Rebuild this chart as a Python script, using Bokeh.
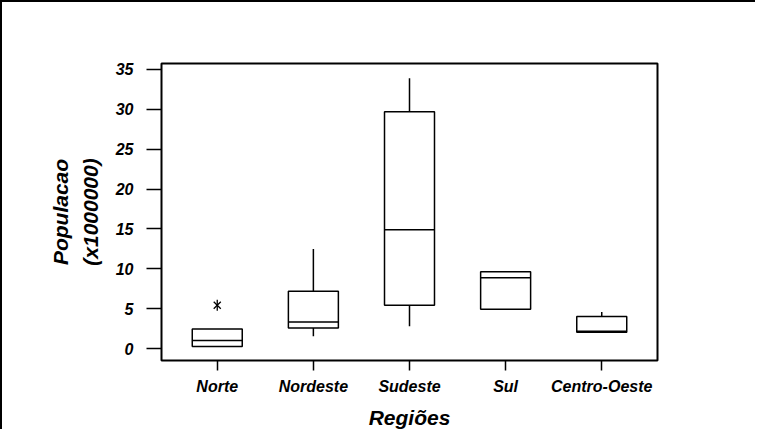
import math
from bokeh.plotting import figure
from bokeh.models import FactorRange, Range1d, FixedTicker
from bokeh.embed import file_html
from bokeh.resources import INLINE

regions = ["Norte", "Nordeste", "Sudeste", "Sul", "Centro-Oeste"]
q1 = [0.29, 2.6, 5.44, 4.95, 2.05]
median = [1.03, 3.34, 14.9, 8.9, 2.17]
q3 = [2.47, 7.2, 29.7, 9.65, 4.04]
whisker_low = [0.29, 1.57, 2.8, 4.95, 2.05]
whisker_high = [2.47, 12.5, 33.9, 9.65, 4.6]
outlier_region = ["Norte"]
outlier_value = [5.44]
y_ticks = [0, 5, 10, 15, 20, 25, 30, 35]

FONT = "Liberation Sans"

p = figure(
    x_range=FactorRange(*regions, range_padding=0.032, range_padding_units="percent"),
    y_range=Range1d(-1.48, 35.74),
    width=755, height=429,
    output_backend="svg", toolbar_location=None,
    min_border_left=159, min_border_right=100,
    min_border_top=61, min_border_bottom=67,
    background_fill_color="white", border_fill_color="white",
)
p.styles = {"border-top": "2px solid black", "border-left": "2px solid black"}

p.outline_line_color = "black"
p.outline_line_width = 2
p.xgrid.visible = False
p.ygrid.visible = False

# whiskers
p.segment(x0=regions, y0=q3, x1=regions, y1=whisker_high, line_color="black", line_width=1.5)
p.segment(x0=regions, y0=q1, x1=regions, y1=whisker_low, line_color="black", line_width=1.5)
# boxes
p.vbar(x=regions, bottom=q1, top=q3, width=0.52, fill_color="white",
       line_color="black", line_width=1.5)
# medians
p.vbar(x=regions, bottom=median, top=median, width=0.52, fill_color=None,
       line_color="black", line_width=1.5)
# outlier drawn as a text-style asterisk (x plus vertical stroke)
p.scatter(x=outlier_region, y=outlier_value, marker="x", size=10,
          line_color="black", line_width=1.3)
p.scatter(x=outlier_region, y=outlier_value, marker="dash", size=11, angle=math.pi / 2,
          line_color="black", line_width=1.3)

for ax in (p.xaxis[0], p.yaxis[0]):
    ax.axis_line_color = None
    ax.major_tick_line_color = "black"
    ax.major_tick_line_width = 1.5
    ax.major_tick_in = 0
    ax.minor_tick_line_color = None
    ax.major_label_text_font = FONT
    ax.major_label_text_font_style = "bold italic"
    ax.major_label_text_font_size = "16px"
    ax.major_label_text_color = "black"
    ax.axis_label_text_font = FONT
    ax.axis_label_text_font_style = "bold italic"
    ax.axis_label_text_font_size = "21px"
    ax.axis_label_text_color = "black"

p.xaxis.axis_label = "Regiões"
p.xaxis.major_tick_out = 10
p.xaxis.major_label_standoff = 7
p.xaxis.axis_label_standoff = 8

p.yaxis.axis_label = "Populacao\n(x1000000)"
p.yaxis.axis_label_text_line_height = 1.3
p.yaxis.ticker = FixedTicker(ticks=y_ticks)
p.yaxis.major_tick_out = 15
p.yaxis.major_label_standoff = 13
p.yaxis.axis_label_standoff = 11
p.yaxis.major_label_orientation = "horizontal"

open("out.html", "w").write(file_html(p, INLINE))
